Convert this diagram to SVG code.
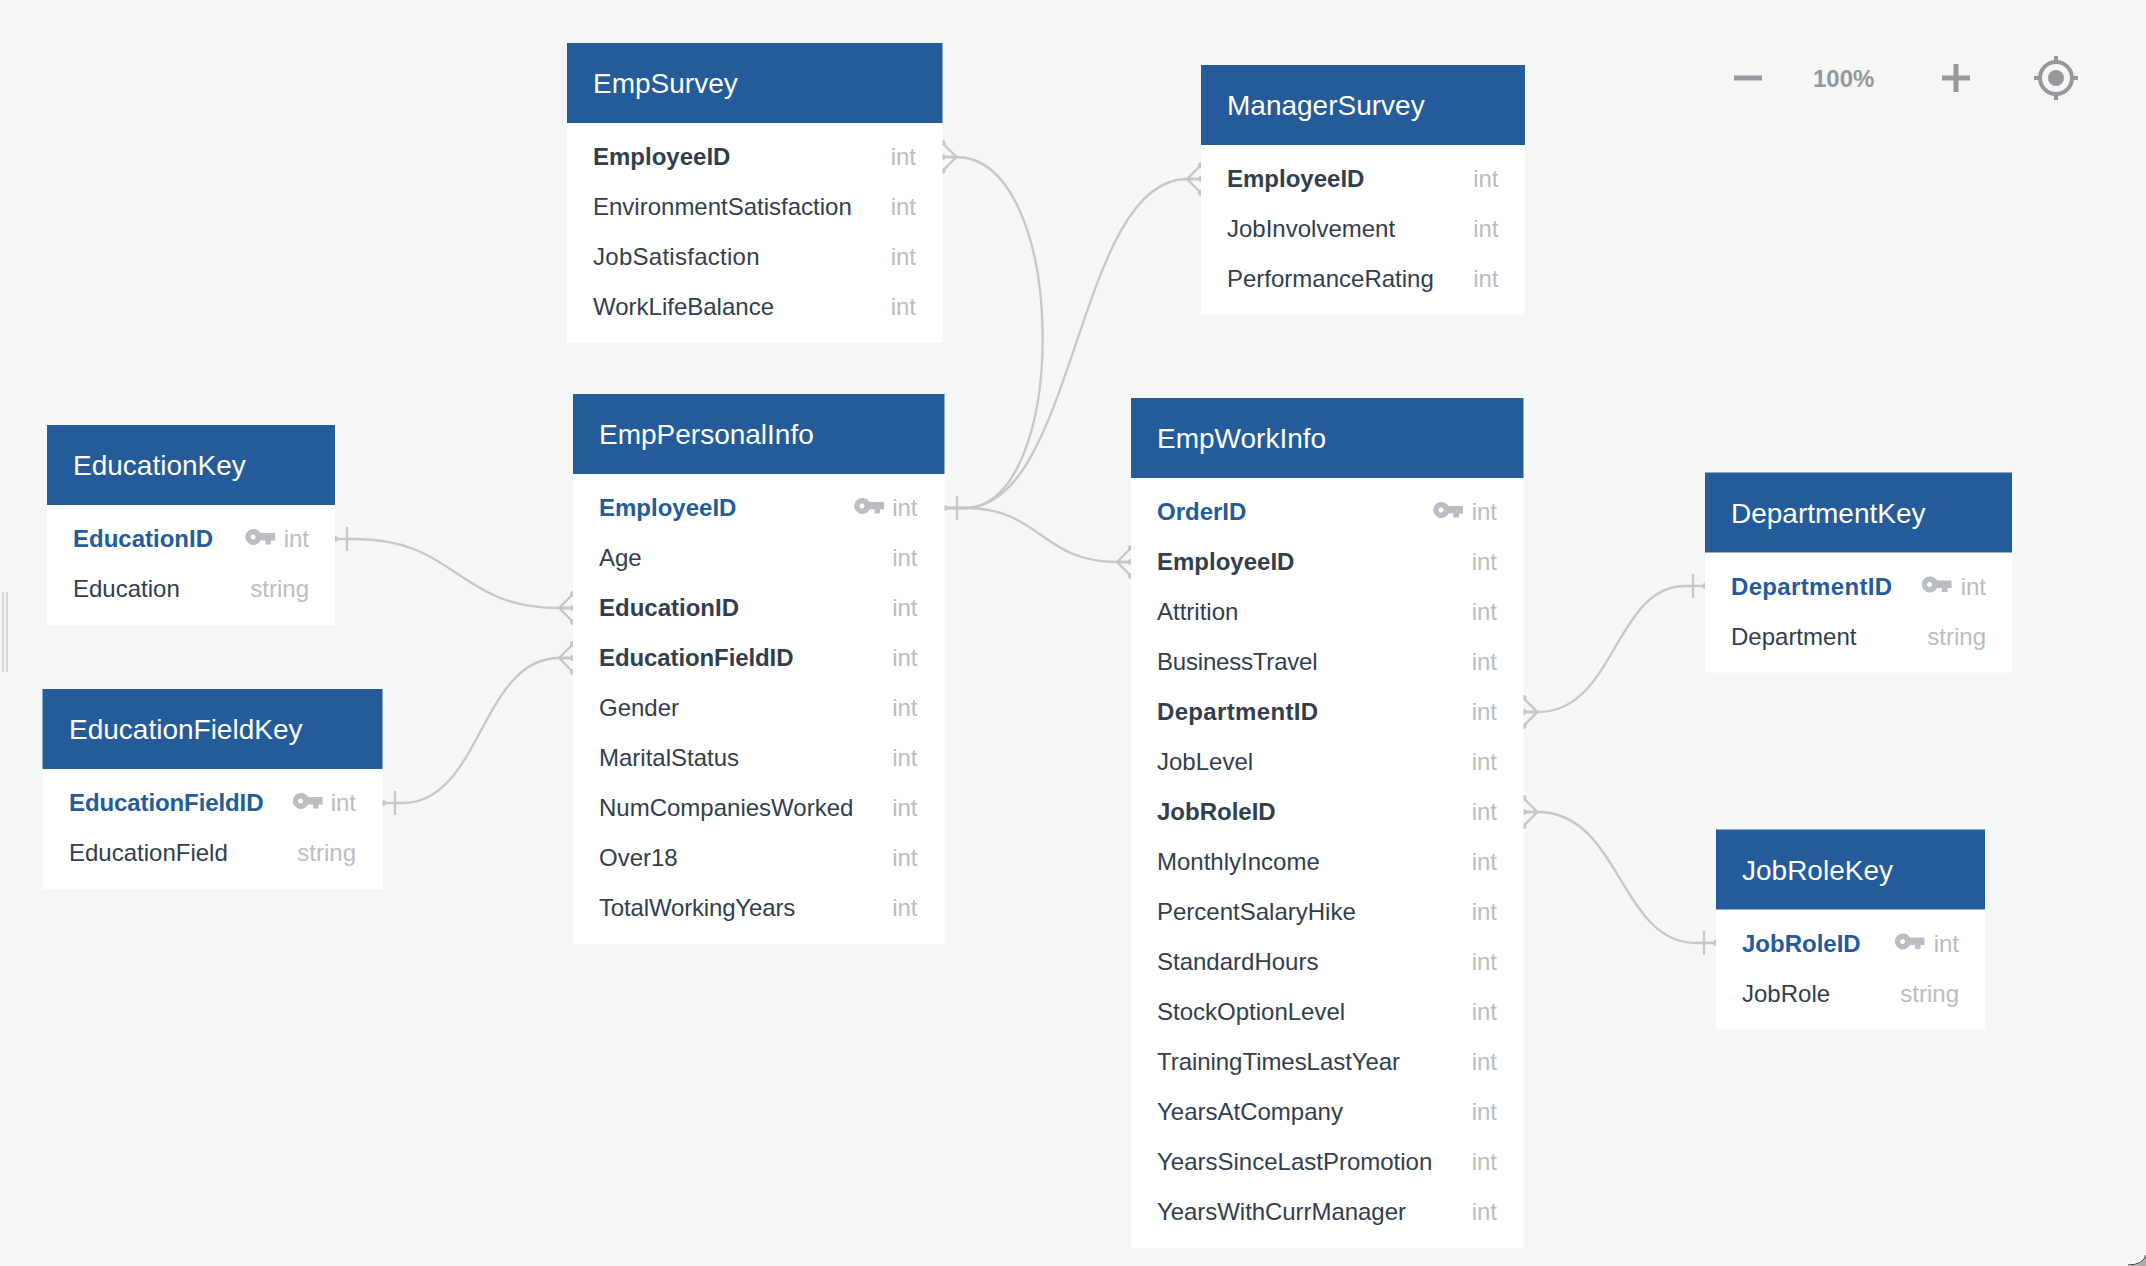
<svg xmlns="http://www.w3.org/2000/svg" xmlns:xlink="http://www.w3.org/1999/xlink" width="2146" height="1266" viewBox="0 0 2146 1266">
<style>
text{font-family:"Liberation Sans",Arial,sans-serif}
.bg{fill:#f5f7f6}
.body{fill:#fff}
.head{fill:#245b9b}
.title{fill:#fff;font-size:28px}
.f{fill:#323e4d;font-size:24px}
.b{font-weight:700}
.p{fill:#245b9b;font-weight:700;font-size:24px}
.t{fill:#babdc3;font-size:24px;text-anchor:end}
.c{fill:none;stroke:#c6c7c7;stroke-width:2.3}
.n{fill:#c6c7c7}
.tool{fill:#96989e}
</style>
<defs>
<path id="key" fill="#babdc3" fill-rule="evenodd" d="M8 0a8 8 0 0 1 7.500 4H30V11.500h-4v4h-5.500v-4h-5a8 8 0 1 1-7.500-11.500zM8 5.500a2.500 2.500 0 1 0 0.010 0z"/>
<g id="many"><path class="c" d="M0 0L14 14M0 14H14M0 28L14 14"/><circle class="n" cy="0" r="3"/><circle class="n" cy="14" r="3"/><circle class="n" cy="28" r="3"/></g>
<circle id="nub" class="n" r="3"/>
</defs>
<rect class="bg" width="2146" height="1266"/>
<path fill="#aaa" d="M2146 1266h-18q15 0 18-11z"/>
<path fill="none" stroke="#333" stroke-width="1" d="M2128 1265q15 0 18-10"/>
<g id="handle" fill="#d4d6d7"><rect x="2" y="592" width="2" height="80"/><rect x="6" y="592" width="2" height="80"/></g>
<g id="connectors">
<path class="c" d="M956 157C1070 157 1070 508 965 508H944M942.500 157H956"/>
<use xlink:href="#many" x="942.500" y="143"/>
<path class="c" d="M944 508H965C1076 508 1076 179 1187 179H1201"/>
<use xlink:href="#many" transform="translate(1201 165) scale(-1 1)"/>
<path class="c" d="M944 508H965C1041 508 1041 562 1117 562H1131M957 496V520"/>
<use xlink:href="#nub" x="944.500" y="508"/>
<use xlink:href="#many" transform="translate(1131 548) scale(-1 1)"/>
<path class="c" d="M335 539H355C457 539 457 608 559 608H573M347 527V551"/>
<use xlink:href="#nub" x="335" y="539"/>
<use xlink:href="#many" transform="translate(573 594) scale(-1 1)"/>
<path class="c" d="M383 803H403C481 803 481 658 559 658H573M395 791V815"/>
<use xlink:href="#nub" x="383" y="803"/>
<use xlink:href="#many" transform="translate(573 644) scale(-1 1)"/>
<path class="c" d="M1523.500 712H1538C1615 712 1615 586 1685 586H1705M1693 574V598"/>
<use xlink:href="#nub" x="1705" y="586"/>
<use xlink:href="#many" x="1523.500" y="698"/>
<path class="c" d="M1523.500 812H1538C1620 812 1620 943 1696 943H1716M1704 931V955"/>
<use xlink:href="#nub" x="1716" y="943"/>
<use xlink:href="#many" x="1523.500" y="798"/>
</g>
<g id="EmpSurvey">
<rect class="body" x="567" y="43" width="375.500" height="300"/><rect class="head" x="567" y="43" width="375.500" height="80"/>
<text class="title" x="593" y="93">EmpSurvey</text>
<text class="f b" x="593" y="165">EmployeeID</text><text class="t" x="916" y="165">int</text>
<text class="f" x="593" y="215">EnvironmentSatisfaction</text><text class="t" x="916" y="215">int</text>
<text class="f" x="593" y="265" letter-spacing=".27">JobSatisfaction</text><text class="t" x="916" y="265">int</text>
<text class="f" x="593" y="315">WorkLifeBalance</text><text class="t" x="916" y="315">int</text>
</g>
<g id="ManagerSurvey">
<rect class="body" x="1201" y="65" width="324" height="250"/><rect class="head" x="1201" y="65" width="324" height="80"/>
<text class="title" x="1227" y="115">ManagerSurvey</text>
<text class="f b" x="1227" y="187">EmployeeID</text><text class="t" x="1498.500" y="187">int</text>
<text class="f" x="1227" y="237">JobInvolvement</text><text class="t" x="1498.500" y="237">int</text>
<text class="f" x="1227" y="287">PerformanceRating</text><text class="t" x="1498.500" y="287">int</text>
</g>
<g id="EducationKey">
<rect class="body" x="47" y="425" width="288" height="200"/><rect class="head" x="47" y="425" width="288" height="80"/>
<text class="title" x="73" y="475">EducationKey</text>
<text class="p" x="73" y="547">EducationID</text><use xlink:href="#key" x="245" y="529"/><text class="t" x="309" y="547">int</text>
<text class="f" x="73" y="597">Education</text><text class="t" x="309" y="597">string</text>
</g>
<g id="EducationFieldKey">
<rect class="body" x="42.500" y="689" width="340" height="200"/><rect class="head" x="42.500" y="689" width="340" height="80"/>
<text class="title" x="69" y="739">EducationFieldKey</text>
<text class="p" x="69" y="811" letter-spacing="-.1">EducationFieldID</text><use xlink:href="#key" x="292.500" y="793"/><text class="t" x="356" y="811">int</text>
<text class="f" x="69" y="861">EducationField</text><text class="t" x="356" y="861">string</text>
</g>
<g id="EmpPersonalInfo">
<rect class="body" x="573" y="394" width="371.500" height="550"/><rect class="head" x="573" y="394" width="371.500" height="80"/>
<text class="title" x="599" y="444">EmpPersonalInfo</text>
<text class="p" x="599" y="516">EmployeeID</text><use xlink:href="#key" x="854" y="498"/><text class="t" x="917.500" y="516">int</text>
<text class="f" x="599" y="566">Age</text><text class="t" x="917.500" y="566">int</text>
<text class="f b" x="599" y="616">EducationID</text><text class="t" x="917.500" y="616">int</text>
<text class="f b" x="599" y="666" letter-spacing="-.1">EducationFieldID</text><text class="t" x="917.500" y="666">int</text>
<text class="f" x="599" y="716">Gender</text><text class="t" x="917.500" y="716">int</text>
<text class="f" x="599" y="766">MaritalStatus</text><text class="t" x="917.500" y="766">int</text>
<text class="f" x="599" y="816">NumCompaniesWorked</text><text class="t" x="917.500" y="816">int</text>
<text class="f" x="599" y="866">Over18</text><text class="t" x="917.500" y="866">int</text>
<text class="f" x="599" y="916" letter-spacing="-.16">TotalWorkingYears</text><text class="t" x="917.500" y="916">int</text>
</g>
<g id="EmpWorkInfo">
<rect class="body" x="1131" y="398" width="392.500" height="850"/><rect class="head" x="1131" y="398" width="392.500" height="80"/>
<text class="title" x="1157" y="448">EmpWorkInfo</text>
<text class="p" x="1157" y="520">OrderID</text><use xlink:href="#key" x="1433" y="502"/><text class="t" x="1497" y="520">int</text>
<text class="f b" x="1157" y="570">EmployeeID</text><text class="t" x="1497" y="570">int</text>
<text class="f" x="1157" y="620">Attrition</text><text class="t" x="1497" y="620">int</text>
<text class="f" x="1157" y="670" letter-spacing="-.2">BusinessTravel</text><text class="t" x="1497" y="670">int</text>
<text class="f b" x="1157" y="720" letter-spacing=".34">DepartmentID</text><text class="t" x="1497" y="720">int</text>
<text class="f" x="1157" y="770">JobLevel</text><text class="t" x="1497" y="770">int</text>
<text class="f b" x="1157" y="820">JobRoleID</text><text class="t" x="1497" y="820">int</text>
<text class="f" x="1157" y="870">MonthlyIncome</text><text class="t" x="1497" y="870">int</text>
<text class="f" x="1157" y="920">PercentSalaryHike</text><text class="t" x="1497" y="920">int</text>
<text class="f" x="1157" y="970">StandardHours</text><text class="t" x="1497" y="970">int</text>
<text class="f" x="1157" y="1020">StockOptionLevel</text><text class="t" x="1497" y="1020">int</text>
<text class="f" x="1157" y="1070" letter-spacing="-.05">TrainingTimesLastYear</text><text class="t" x="1497" y="1070">int</text>
<text class="f" x="1157" y="1120">YearsAtCompany</text><text class="t" x="1497" y="1120">int</text>
<text class="f" x="1157" y="1170">YearsSinceLastPromotion</text><text class="t" x="1497" y="1170">int</text>
<text class="f" x="1157" y="1220" letter-spacing="-.05">YearsWithCurrManager</text><text class="t" x="1497" y="1220">int</text>
</g>
<g id="DepartmentKey">
<rect class="body" x="1705" y="472.500" width="307" height="200"/><rect class="head" x="1705" y="472.500" width="307" height="80"/>
<text class="title" x="1731" y="522.500">DepartmentKey</text>
<text class="p" x="1731" y="595" letter-spacing=".34">DepartmentID</text><use xlink:href="#key" x="1921.500" y="576.500"/><text class="t" x="1986" y="595">int</text>
<text class="f" x="1731" y="645">Department</text><text class="t" x="1986" y="645">string</text>
</g>
<g id="JobRoleKey">
<rect class="body" x="1716" y="829.500" width="269" height="200"/><rect class="head" x="1716" y="829.500" width="269" height="80"/>
<text class="title" x="1742" y="879.500">JobRoleKey</text>
<text class="p" x="1742" y="952">JobRoleID</text><use xlink:href="#key" x="1894.500" y="933.500"/><text class="t" x="1959" y="952">int</text>
<text class="f" x="1742" y="1002">JobRole</text><text class="t" x="1959" y="1002">string</text>
</g>
<g id="toolbar">
<rect class="tool" x="1734" y="75.500" width="28" height="5"/>
<text x="1813" y="87" fill="#96989e" font-size="24" font-weight="700">100%</text>
<path class="tool" d="M1942 75.500h11.500V64h5v11.500H1970v5h-11.500V92h-5V80.500H1942z"/>
<circle cx="2056" cy="78" r="16" fill="none" stroke="#96989e" stroke-width="4"/>
<circle class="tool" cx="2056" cy="78" r="8"/>
<path fill="none" stroke="#96989e" stroke-width="4" d="M2056 56v6M2056 94v6M2034 78h6M2072 78h6"/>
</g>
</svg>
